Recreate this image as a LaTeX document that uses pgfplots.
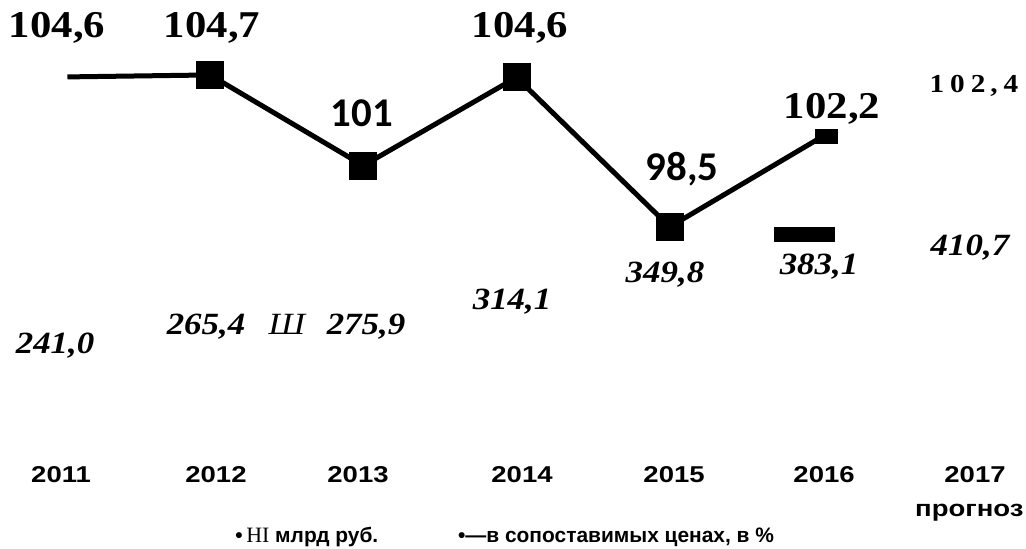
\documentclass[border=0pt]{standalone}
\usepackage{fontspec}
\usepackage{pgfplots}
\pgfplotsset{compat=1.18}
\setmainfont{Liberation Serif}
\newfontfamily\pserif[FakeStretch=1.13]{Liberation Serif}
\newfontfamily\psans[FakeStretch=1.2]{Liberation Sans}
\newfontfamily\lsans{Liberation Sans}
\newfontfamily\carl{Carlito}
\newcommand\spaced{1\kern6bp0\kern6bp2\kern5bp,\kern6bp4}
\begin{document}
\begin{tikzpicture}
\begin{axis}[
  scale only axis, width=1026bp, height=548bp,
  xmin=-0.3703, xmax=6.3246, ymin=85.39, ymax=107.76,
  axis lines=none, xtick=\empty, ytick=\empty,
  clip=false,
  lbl/.style={only marks, mark=none, point meta=explicit symbolic, nodes near coords,
    every node near coord/.append style={anchor=base, inner sep=0pt, text=black, #1}},
]
% index (percent, comparable prices)
\addplot[black, line width=5bp, mark=square*, mark size=11.5bp, mark indices={2,3,4,5},
  mark options={solid}] coordinates {
  (0.07,104.62) (1,104.7) (2,101) (3,104.6) (4,98.5) (5,102.2)};
\addplot[only marks, mark=square*, mark size=11bp, mark options={yscale=0.62, fill=black, draw=black}]
  coordinates {(5.02,102.2)};
\addplot[only marks, mark=square*, mark size=11bp, mark options={xscale=2.73, yscale=0.62, fill=black, draw=black}]
  coordinates {(4.876,98.21)};
% value labels, percent
\addplot[lbl={font=\pserif\bfseries\fontsize{38}{38}\selectfont}] table[meta=label] {
x y label
0.002 106.21 104,6
1.013 106.21 104,7
3.023 106.21 104,6
5.059 102.94 102,2
};
\addplot[lbl={font=\carl\bfseries\fontsize{41}{41}\selectfont}] table[meta=label] {
x y label
1.992 102.58 101
4.080 100.41 98,5
};
\addplot[lbl={font=\pserif\bfseries\fontsize{26}{26}\selectfont}] coordinates {
  (5.985,103.97) [\spaced]};
% value labels, bn roubles
\addplot[lbl={font=\pserif\bfseries\itshape\fontsize{31}{31}\selectfont}] table[meta=label] {
x y label
-0.011 93.35 241,0
0.974 94.09 265,4
2.018 94.09 275,9
2.971 95.11 314,1
3.969 96.21 349,8
4.974 96.54 383,1
5.959 97.35 410,7
};
\addplot[lbl={font=\pserif\itshape\fontsize{31}{31}\selectfont}] table[meta=label] {
x y label
1.502 94.09 Ш
};
% years
\addplot[lbl={font=\psans\bfseries\fontsize{23}{23}\selectfont}] table[meta=label] {
x y label
0.028 88.05 2011
1.039 88.05 2012
1.966 88.05 2013
3.036 88.05 2014
4.028 88.05 2015
5.007 88.05 2016
5.992 88.05 2017
5.955 86.66 прогноз
};
% legend
\node[anchor=base west, inner sep=0pt] at (axis cs:1.165,85.6)
  {\lsans\bfseries\fontsize{21}{21}\selectfont •\,{\mdseries\rmfamily\fontsize{22}{22}\selectfont HI} млрд руб.};
\node[anchor=base west, inner sep=0pt] at (axis cs:2.618,85.6)
  {\lsans\bfseries\fontsize{21}{21}\selectfont •—в сопоставимых ценах, в \%};
\end{axis}
\pgfresetboundingbox
\useasboundingbox (current axis.south west) rectangle (current axis.north east);
\end{tikzpicture}
\end{document}
